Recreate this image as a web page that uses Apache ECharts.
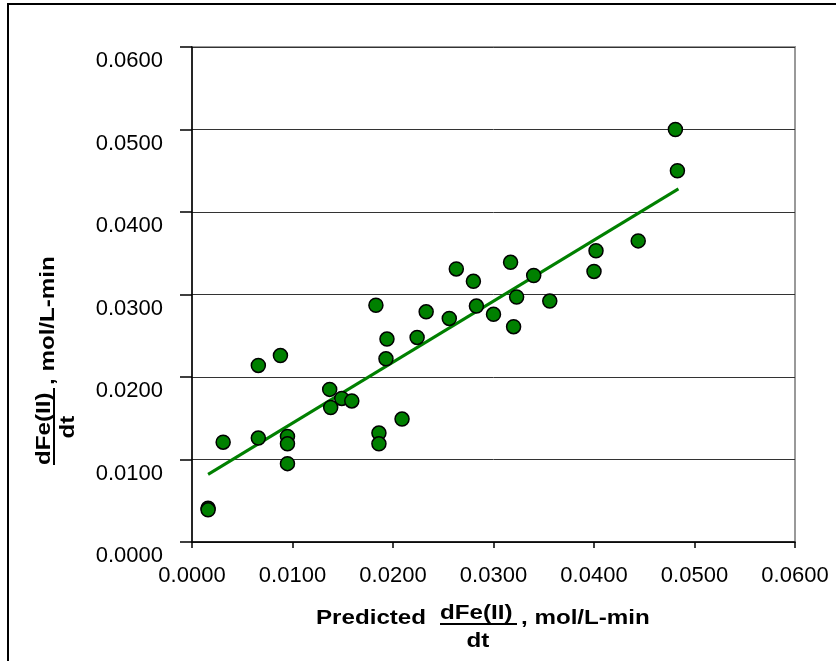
<!DOCTYPE html>
<html>
<head>
<meta charset="utf-8">
<script src="https://cdn.jsdelivr.net/npm/echarts@6/dist/echarts.min.js"></script>
<style>html,body{margin:0;padding:0;background:#fff}#c{width:836px;height:661px}</style>
</head>
<body>
<div id="c"></div>
<script>
const predicted = [0.0016,0.0016,0.0031,0.0066,0.0066,0.0088,0.0095,0.0095,0.0095,0.0137,0.0138,0.0149,0.0159,0.0183,0.0186,0.0186,0.0194,0.0193,0.0209,0.0224,0.0233,0.0256,0.0263,0.0280,0.0283,0.0300,0.0317,0.0320,0.0323,0.0340,0.0356,0.0402,0.0400,0.0444,0.0481,0.0483];
const observed  = [0.0041,0.0039,0.0121,0.0214,0.0126,0.0226,0.0128,0.0119,0.0095,0.0185,0.0163,0.0174,0.0171,0.0287,0.0132,0.0119,0.0246,0.0222,0.0149,0.0248,0.0279,0.0271,0.0331,0.0316,0.0286,0.0276,0.0339,0.0261,0.0297,0.0323,0.0292,0.0353,0.0328,0.0365,0.0500,0.0450];
// Linear trend line endpoints
const trendX = [0.0016, 0.0484];
const trendY = [0.0082, 0.0428];
const tickMin = 0, tickMax = 0.06, tickStep = 0.01;

const FONT = 'Arial, "Liberation Sans", sans-serif';
const TF = 'bold 21px ' + FONT;
const SX = 1.15;
const chart = echarts.init(document.getElementById('c'), null, {renderer:'canvas'});

function t(text, x, y, align){
  return {type:'text', x:x, y:y, scaleX:SX, style:{text:text, font:TF, fill:'#000', textVerticalAlign:'middle', textAlign:align||'left'}};
}

chart.setOption({
  animation:false,
  backgroundColor:'#fff',
  grid:{left:192, top:47, width:603, height:495, show:true, borderColor:'#999', borderWidth:2, backgroundColor:'transparent'},
  xAxis:{
    type:'value', min:tickMin, max:tickMax, interval:tickStep,
    axisLine:{show:true, onZero:false, lineStyle:{color:'#000', width:1.5}},
    axisTick:{show:true, inside:false, length:6, lineStyle:{color:'#000', width:1.5}},
    axisLabel:{margin:23, fontFamily:FONT, fontSize:22, color:'#000', formatter:v=>v.toFixed(4)},
    splitLine:{show:false}
  },
  yAxis:{
    type:'value', min:tickMin, max:tickMax, interval:tickStep,
    axisLine:{show:true, onZero:false, lineStyle:{color:'#000', width:1.5}},
    axisTick:{show:true, inside:false, length:12, lineStyle:{color:'#000', width:1.5}},
    axisLabel:{margin:29, fontFamily:FONT, fontSize:22, color:'#000', verticalAlign:'top', padding:[3,0,0,0], formatter:v=>v.toFixed(4)},
    splitLine:{show:true, lineStyle:{color:'#333', width:1}}
  },
  series:[
    {
      type:'line', data:trendX.map((x,i)=>[x,trendY[i]]), symbol:'none',
      lineStyle:{color:'#008000', width:3}, z:2, silent:true
    },
    {
      type:'scatter', data:predicted.map((x,i)=>[x,observed[i]]), symbol:'circle', symbolSize:14,
      itemStyle:{color:'#008000', borderColor:'#000', borderWidth:1.5, opacity:1}, z:3
    }
  ],
  graphic:[
    {type:'rect', shape:{x:8, y:4, width:900, height:700}, style:{fill:'none', stroke:'#000', lineWidth:2}, silent:true},
    // x-axis title
    t('Predicted', 316, 618),
    t('dFe(II)', 440, 613),
    {type:'line', shape:{x1:440, y1:624, x2:517, y2:624}, style:{stroke:'#000', lineWidth:2}},
    t('dt', 478, 641, 'center'),
    t(', mol/L-min', 521, 618),
    // y-axis title (rotated)
    {type:'group', x:44, y:465, rotation:Math.PI/2, children:[
      t('dFe(II)', 0, 0),
      {type:'line', shape:{x1:0, y1:10, x2:77, y2:10}, style:{stroke:'#000', lineWidth:2}},
      t('dt', 38, 24, 'center'),
      t(', mol/L-min', 80, 4)
    ]}
  ]
});
</script>
</body>
</html>
